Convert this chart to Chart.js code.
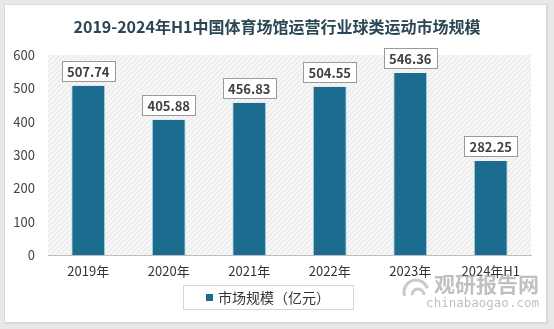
<!DOCTYPE html>
<html>
<head>
<meta charset="utf-8">
<script src="https://cdn.jsdelivr.net/npm/chart.js@4.4.1/dist/chart.umd.min.js"></script>
<style>
  html, body { margin: 0; padding: 0; background: #e8e8e8; }
  #wrap { width: 554px; height: 329px; }
</style>
</head>
<body>
<div id="wrap"><canvas id="chart" width="554" height="329"></canvas></div>
<script>
// --- dati ---
const titolo = '2019-2024年H1中国体育场馆运营行业球类运动市场规模';
const categorie = ['2019年', '2020年', '2021年', '2022年', '2023年', '2024年H1'];
const valori = [507.74, 405.88, 456.83, 504.55, 546.36, 282.25];
const serieNome = '市场规模（亿元）';
const yTicks = [0, 100, 200, 300, 400, 500, 600];

const FONT = "'Noto Sans CJK SC', 'Noto Sans', sans-serif";
const BAR = '#1c6c90';

// sfondo tratteggiato dell'area grafico
function makeHatch() {
    const c = document.createElement('canvas');
    c.width = 5; c.height = 5;
    const g = c.getContext('2d');
    g.fillStyle = '#f6f6f6';
    g.fillRect(0, 0, 5, 5);
    g.strokeStyle = '#e3e3e3';
    g.lineWidth = 1;
    g.beginPath();
    g.moveTo(0, 5); g.lineTo(5, 0);
    g.stroke();
    return c;
}

const bgPlugin = {
    id: 'bgCard',
    beforeDraw(chart) {
        const ctx = chart.ctx;
        const a = chart.chartArea;
        ctx.save();
        // cartoncino bianco
        ctx.fillStyle = '#d9d9d9';
        ctx.fillRect(4, 4, 544, 320);
        ctx.fillStyle = '#ffffff';
        ctx.fillRect(5, 5, 541, 317);
        // tratteggio
        ctx.fillStyle = ctx.createPattern(makeHatch(), 'repeat');
        ctx.fillRect(a.left, a.top, a.right - a.left, a.bottom - a.top);
        // titolo
        ctx.fillStyle = '#2c4654';
        ctx.font = 'bold 16px ' + FONT;
        ctx.textAlign = 'center';
        ctx.textBaseline = 'middle';
        ctx.fillText(titolo, 277, 27);
        ctx.restore();
    }
};

// etichette valori in box
const labelPlugin = {
    id: 'boxLabels',
    afterDatasetsDraw(chart) {
        const ctx = chart.ctx;
        const meta = chart.getDatasetMeta(0);
        ctx.save();
        ctx.font = '600 13px ' + FONT;
        ctx.textAlign = 'center';
        ctx.textBaseline = 'middle';
        meta.data.forEach((bar, i) => {
            const txt = valori[i].toFixed(2);
            const w = ctx.measureText(txt).width + 10;
            const h = 20;
            const x = bar.x - w / 2;
            const y = bar.y - 5 - h;
            ctx.fillStyle = '#ffffff';
            ctx.fillRect(x, y, w, h);
            ctx.strokeStyle = '#9a9a9a';
            ctx.lineWidth = 1;
            ctx.strokeRect(Math.round(x) + 0.5, Math.round(y) + 0.5, Math.round(w), h);
            ctx.fillStyle = '#404040';
            ctx.fillText(txt, bar.x, y + h / 2 + 1);
        });
        ctx.restore();
    }
};

// legenda in box + filigrana
const legendPlugin = {
    id: 'boxLegend',
    afterDraw(chart) {
        const ctx = chart.ctx;
        ctx.save();
        ctx.font = '14px ' + FONT;
        const tw = ctx.measureText(serieNome).width;
        const bx = 183, by = 285, bw = 170, bh = 24;
        ctx.fillStyle = '#ffffff';
        ctx.fillRect(bx, by, bw, bh);
        ctx.strokeStyle = '#d6d6d6';
        ctx.strokeRect(bx + 0.5, by + 0.5, bw, bh);
        const total = 7 + 5 + tw;
        const sx = bx + (bw - total) / 2;
        ctx.fillStyle = BAR;
        ctx.fillRect(sx, by + bh / 2 - 3, 7, 7);
        ctx.fillStyle = '#333333';
        ctx.textBaseline = 'middle';
        ctx.textAlign = 'left';
        ctx.fillText(serieNome, sx + 12, by + bh / 2 + 1);

        // filigrana
        ctx.fillStyle = 'rgba(140,140,140,0.55)';
        ctx.font = 'bold 21px ' + FONT;
        ctx.textAlign = 'right';
        ctx.fillText('观研报告网', 539, 284);
        ctx.font = "12.5px 'DejaVu Sans Mono', monospace";
        ctx.fillText('chinabaogao.com', 539, 304);
        ctx.strokeStyle = 'rgba(150,150,150,0.5)';
        ctx.lineWidth = 3;
        ctx.beginPath();
        ctx.arc(416, 292, 12, Math.PI * 0.9, Math.PI * 1.9);
        ctx.stroke();
        ctx.beginPath();
        ctx.arc(418, 295, 6, Math.PI * 1.0, Math.PI * 2.0);
        ctx.stroke();
        ctx.restore();
    }
};

new Chart(document.getElementById('chart'), {
    type: 'bar',
    data: {
        labels: categorie,
        datasets: [{
            label: serieNome,
            data: valori,
            backgroundColor: BAR,
            borderColor: '#a8d6e8',
            borderWidth: { left: 1, right: 1, top: 0, bottom: 0 },
            categoryPercentage: 1,
            barPercentage: 0.42
        }]
    },
    options: {
        responsive: false,
        animation: false,
        layout: { padding: { left: 0, right: 23, top: 55, bottom: 0 } },
        plugins: {
            legend: { display: false },
            tooltip: { enabled: false },
            title: { display: false }
        },
        scales: {
            x: {
                grid: { display: false, drawTicks: false },
                border: { display: true, color: '#bdbdbd' },
                ticks: { color: '#333333', font: { family: FONT, size: 13 }, padding: 8 },
                afterFit(scale) { scale.height = 74; }
            },
            y: {
                min: 0,
                max: 600,
                afterBuildTicks(scale) { scale.ticks = yTicks.map(v => ({ value: v })); },
                grid: { display: false, drawTicks: false },
                border: { display: false },
                ticks: { color: '#444444', font: { family: FONT, size: 13 }, padding: 13 },
                afterFit(scale) { scale.width = 48; }
            }
        }
    },
    plugins: [bgPlugin, labelPlugin, legendPlugin]
});
</script>
</body>
</html>
